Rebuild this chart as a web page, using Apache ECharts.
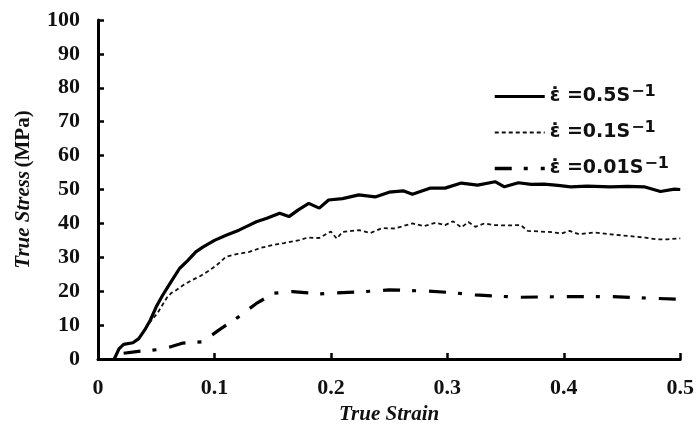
<!DOCTYPE html>
<html>
<head>
<meta charset="utf-8">
<script src="https://cdn.jsdelivr.net/npm/echarts@6/dist/echarts.min.js"></script>
<style>html,body{margin:0;padding:0;background:#fff}#c{width:697px;height:430px}</style>
</head>
<body>
<div id="c"></div>
<script>
// Strain rates (legend) and [true strain, true stress (MPa)] data
const rates = ['0.5', '0.1', '0.01'];
const curve05 = [[0.014,0],[0.018,3],[0.022,4.3],[0.03,4.8],[0.035,6],[0.04,8.5],[0.045,11.5],[0.05,15.4],[0.055,18.5],[0.06,21.3],[0.065,24],[0.07,26.7],[0.077,29],[0.084,31.6],[0.09,33],[0.1,35],[0.11,36.5],[0.121,38],[0.13,39.5],[0.136,40.5],[0.145,41.5],[0.156,43],[0.164,42],[0.172,44],[0.181,45.9],[0.19,44.5],[0.198,46.9],[0.21,47.3],[0.224,48.4],[0.238,47.8],[0.25,49.2],[0.262,49.6],[0.27,48.6],[0.285,50.4],[0.298,50.4],[0.312,51.9],[0.326,51.3],[0.341,52.3],[0.349,50.8],[0.361,52],[0.372,51.5],[0.383,51.6],[0.395,51.2],[0.406,50.8],[0.42,51],[0.44,50.8],[0.455,50.9],[0.469,50.8],[0.483,49.4],[0.495,50.1],[0.5,50]];
const curve01 = [[0.044,10.6],[0.051,13.5],[0.059,18],[0.063,19.5],[0.067,20.3],[0.074,22],[0.081,23.3],[0.088,24.5],[0.096,26.2],[0.103,28],[0.11,30.2],[0.12,31],[0.13,31.6],[0.14,32.8],[0.15,33.6],[0.16,34.2],[0.173,35.1],[0.18,35.8],[0.19,35.7],[0.2,37.6],[0.205,35.5],[0.21,37.5],[0.224,38],[0.234,37.2],[0.244,38.6],[0.255,38.5],[0.262,39.2],[0.27,40],[0.28,39.2],[0.29,40.2],[0.298,39.5],[0.305,40.6],[0.312,38.8],[0.318,40.4],[0.324,39],[0.332,40],[0.34,39.5],[0.35,39.4],[0.363,39.5],[0.369,37.8],[0.38,37.6],[0.39,37.4],[0.398,37],[0.405,37.8],[0.413,36.8],[0.426,37.3],[0.44,36.8],[0.455,36.3],[0.47,35.8],[0.48,35.3],[0.489,35.3],[0.5,35.6]];
const curve001 = [[0.022,1.7],[0.033,2.2],[0.056,2.9],[0.073,4.7],[0.09,5.1],[0.104,8.6],[0.121,12.5],[0.136,16.4],[0.151,19.4],[0.167,19.9],[0.19,19.2],[0.21,19.6],[0.23,19.9],[0.25,20.4],[0.284,20],[0.303,19.6],[0.324,18.9],[0.361,18.2],[0.4,18.4],[0.44,18.4],[0.477,17.9],[0.5,17.6]];

const names = rates.map(r => 'ε̇ =' + r + 'S⁻¹');
const legendWidths = [3.2, 2, 3.5];
const serif = '"Liberation Serif","Times New Roman",serif';
const txt = '#111';

const chart = echarts.init(document.getElementById('c'), null, {renderer: 'canvas'});
chart.setOption({
  animation: false,
  backgroundColor: '#fff',
  grid: {left: 98, right: 15, top: 20, bottom: 71, containLabel: false},
  legend: {
    orient: 'vertical', left: 488, top: 79,
    itemWidth: 50, itemHeight: 14, itemGap: 14,
    data: names.map((n, i) => ({name: n, itemStyle: {opacity: 0}, lineStyle: {width: legendWidths[i]}})),
    formatter: n => '{t|' + n.replace('⁻¹', '') + '}{s|−1}',
    textStyle: {
      color: txt,
      rich: {
        t: {fontFamily: '"DejaVu Sans",sans-serif', fontWeight: 'bold', fontSize: 19, color: txt, lineHeight: 20},
        s: {fontFamily: '"DejaVu Sans",sans-serif', fontWeight: 'bold', fontSize: 16, color: txt, verticalAlign: 'top', padding: [0, 0, 9, 1]}
      }
    }
  },
  xAxis: {
    type: 'value', min: 0, max: 0.5, interval: 0.1,
    name: 'True Strain', nameLocation: 'middle', nameGap: 44,
    nameTextStyle: {fontFamily: serif, fontWeight: 'bold', fontStyle: 'italic', fontSize: 21, color: txt},
    axisLine: {show: true, lineStyle: {color: '#000', width: 3}},
    axisTick: {show: true, inside: true, length: 6, lineStyle: {color: '#000', width: 2.5}},
    axisLabel: {margin: 18, fontFamily: serif, fontWeight: 'bold', fontSize: 22, color: txt},
    splitLine: {show: false}
  },
  yAxis: {
    type: 'value', min: 0, max: 100, interval: 10,
    name: '{i|True Stress} {n|(MPa)}', nameLocation: 'middle', nameGap: 64, nameRotate: 90,
    nameTextStyle: {
      rich: {
        i: {fontFamily: serif, fontWeight: 'bold', fontStyle: 'italic', fontSize: 21, color: txt},
        n: {fontFamily: serif, fontWeight: 'bold', fontSize: 21, color: txt}
      }
    },
    axisLine: {show: true, lineStyle: {color: '#000', width: 3}},
    axisTick: {show: true, inside: true, length: 6, lineStyle: {color: '#000', width: 2.5}},
    axisLabel: {margin: 18, fontFamily: serif, fontWeight: 'bold', fontSize: 22, color: txt},
    splitLine: {show: false}
  },
  series: [
    {name: names[0], type: 'line', data: curve05, showSymbol: false, symbol: 'none',
     lineStyle: {color: '#000', width: 3.2, type: 'solid'}, itemStyle: {color: '#000'}},
    {name: names[1], type: 'line', data: curve01, showSymbol: false, symbol: 'none',
     lineStyle: {color: '#111', width: 1.8, type: [4, 3]}, itemStyle: {color: '#111'}},
    {name: names[2], type: 'line', data: curve001, showSymbol: false, symbol: 'none',
     lineStyle: {color: '#000', width: 3.2, type: [17, 12, 4, 13]}, itemStyle: {color: '#000'}}
  ]
});
</script>
</body>
</html>
